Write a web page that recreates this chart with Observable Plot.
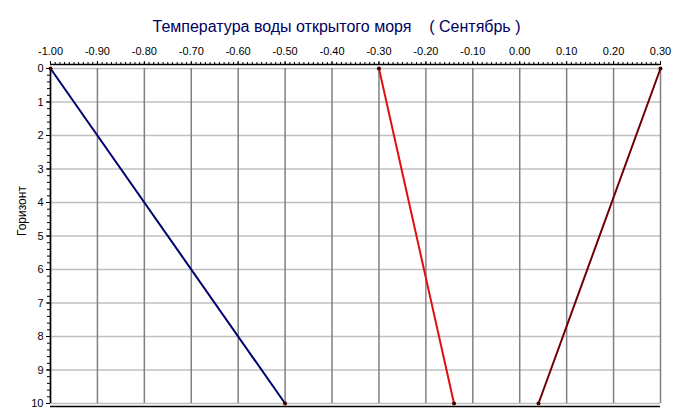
<!DOCTYPE html>
<html><head><meta charset="utf-8">
<script src="https://cdn.jsdelivr.net/npm/d3@7"></script>
<script src="https://cdn.jsdelivr.net/npm/@observablehq/plot@0.6"></script>
<style>body{margin:0;background:#fff;} svg{font-family:"Liberation Sans",Arial,sans-serif;}</style>
</head><body><div id="chart"></div>
<script>
const title = "Температура воды открытого моря\u00a0\u00a0\u00a0\u00a0( Сентябрь )";
const yLabel = "Горизонт";
const depths = [0, 10];
const seriesNames = ["s1", "s2", "s3"];
const seriesColors = ["#000070", "#e01010", "#700000"];
const s1 = [-1.00, -0.50];
const s2 = [-0.30, -0.14];
const s3 = [0.30, 0.04];
const xTicks = [-1.0, -0.9, -0.8, -0.7, -0.6, -0.5, -0.4, -0.3, -0.2, -0.1, 0.0, 0.1, 0.2, 0.3];
const yTicks = [0, 1, 2, 3, 4, 5, 6, 7, 8, 9, 10];

const rows = [];
[s1, s2, s3].forEach((s, i) => s.forEach((v, j) => rows.push({series: seriesNames[i], x: v, y: depths[j]})));
const xMinor = d3.range(0, 131).map(k => Math.round((-1 + k * 0.01) * 100) / 100);
const yMinor = d3.range(0, 51).map(k => Math.round(k * 0.2 * 10) / 10);
const fmt = d => (Math.abs(d) < 1e-9 ? 0 : d).toFixed(2);

const chart = Plot.plot({
  width: 675, height: 419,
  marginLeft: 50, marginRight: 15, marginTop: 68, marginBottom: 16,
  style: {fontSize: "11px", color: "#000", background: "#fff"},
  x: {domain: [-1, 0.3], axis: null},
  y: {domain: [0, 10], reverse: true, axis: null},
  color: {domain: seriesNames, range: seriesColors},
  marks: [
    Plot.ruleY(yTicks, {stroke: "#c0c0c0", strokeWidth: 1.5}),
    Plot.ruleX(xTicks, {stroke: "#808080", strokeWidth: 1.5, y1: 0, y2: 10}),
    Plot.ruleY([0], {stroke: "#000", strokeWidth: 1.5, dy: -4, x1: -1, x2: 0.3}),
    Plot.ruleY([10], {stroke: "#000", strokeWidth: 1.5, dy: 3, x1: -1, x2: 0.3}),
    Plot.ruleX([-1], {stroke: "#000", strokeWidth: 1.5, y1: 0, y2: 10}),
    Plot.axisX(xMinor, {anchor: "top", label: null, tickSize: 3, dy: -4, tickFormat: () => "", stroke: "#000"}),
    Plot.axisX(xTicks, {anchor: "top", label: null, tickSize: 4, dy: -4, tickPadding: 6, tickFormat: fmt, fill: "#000", fontSize: 11}),
    Plot.axisY(yMinor, {anchor: "left", label: null, tickSize: 3, tickFormat: () => "", stroke: "#000"}),
    Plot.axisY(yTicks, {anchor: "left", label: null, tickSize: 4, tickPadding: 3, tickFormat: d => String(d), fill: "#000", fontSize: 11}),
    Plot.line(rows, {x: "x", y: "y", z: "series", stroke: "series", strokeWidth: 2}),
    Plot.dot(rows, {x: "x", y: "y", fill: "#400000", r: 2}),
    Plot.text([title], {frameAnchor: "top", dx: -19, dy: -48, fontSize: 16, fill: "#000060", text: d => d}),
    Plot.text([yLabel], {frameAnchor: "left", dx: -28, rotate: -90, fontSize: 12, fill: "#000", text: d => d})
  ]
});
document.getElementById("chart").append(chart);
</script></body></html>
